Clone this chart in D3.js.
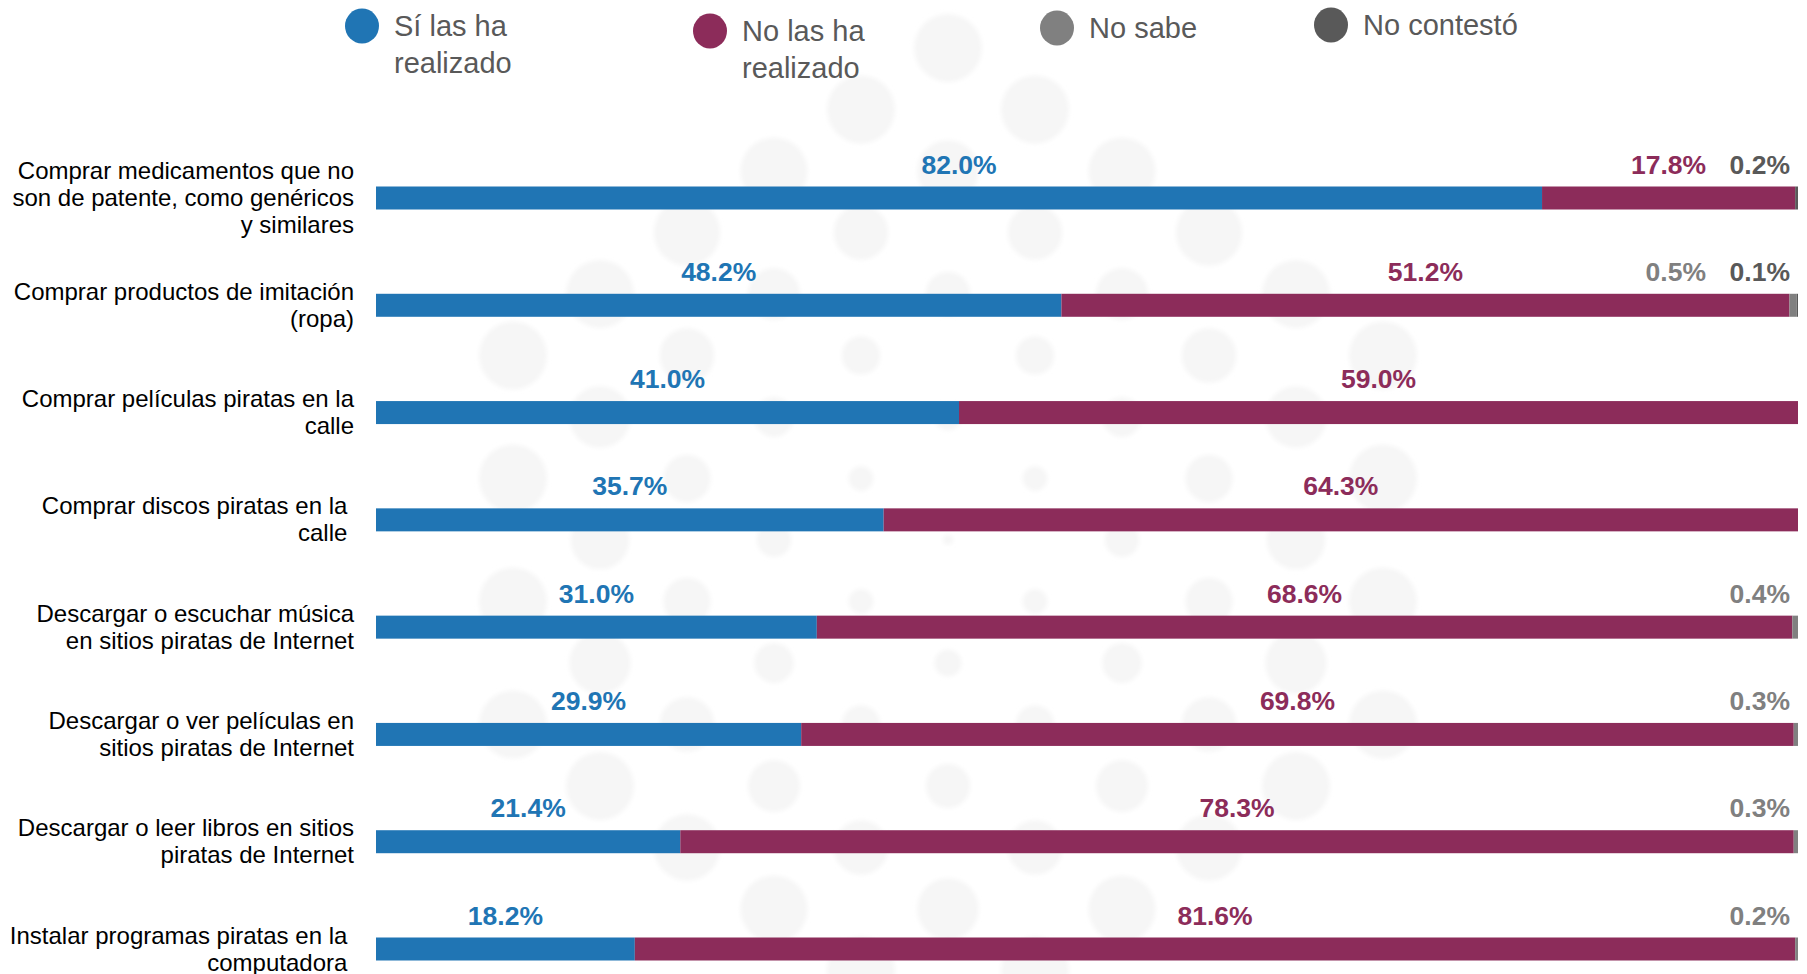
<!DOCTYPE html>
<html>
<head>
<meta charset="utf-8">
<script src="https://cdn.jsdelivr.net/npm/d3@7"></script>
<style>
  html, body { margin: 0; padding: 0; background: #fff; }
  svg { display: block; font-family: "Liberation Sans", Arial, sans-serif; }
</style>
</head>
<body>
<svg id="chart"></svg>
<script>
// datos
var categorias = [
  ["Comprar medicamentos que no", "son de patente, como genéricos", "y similares"],
  ["Comprar productos de imitación", "(ropa)"],
  ["Comprar películas piratas en la", "calle"],
  ["Comprar discos piratas en la ", "calle "],
  ["Descargar o escuchar música", "en sitios piratas de Internet"],
  ["Descargar o ver películas en", "sitios piratas de Internet"],
  ["Descargar o leer libros en sitios", "piratas de Internet"],
  ["Instalar programas piratas en la ", "computadora "]
]
var si = [82.0, 48.2, 41.0, 35.7, 31.0, 29.9, 21.4, 18.2]
var no = [17.8, 51.2, 59.0, 64.3, 68.6, 69.8, 78.3, 81.6]
var noSabe = [0, 0.5, 0, 0, 0.4, 0.3, 0.3, 0.2]
var noContesto = [0.2, 0.1, 0, 0, 0, 0, 0, 0]

var series = ["si", "no", "noSabe", "noContesto"]
var nombres = [["Sí las ha", "realizado"], ["No las ha", "realizado"], ["No sabe"], ["No contestó"]]
var colores = ["#2075B4", "#8C2C5A", "#808080", "#595959"]

var W = 1807, H = 974
var svg = d3.select('#chart')
  .attr('width', W)
  .attr('height', H)

// marca de agua de fondo (círculos tenues)
svg.append('defs').append('filter')
  .attr('id', 'suave')
  .append('feGaussianBlur')
  .attr('stdDeviation', 2)
var fondo = svg.append('g').attr('filter', 'url(#suave)')
var cx0 = 948, cy0 = 540
for (var k = -6; k <= 6; k++) {
  for (var j = -6; j <= 6; j++) {
    var px = cx0 + k * 87
    var py = cy0 + j * 123 + (Math.abs(k) % 2 ? 61.5 : 0)
    var dist = Math.hypot(px - cx0, py - cy0)
    if (dist > 500) continue
    fondo.append('circle')
      .attr('cx', px)
      .attr('cy', py)
      .attr('r', Math.min(34, 5 + dist * 0.07))
      .attr('fill', '#f6f6f6')
  }
}

// tabla para el stack
var tabla = categorias.map(function (c, i) {
  return { cat: i, si: si[i], no: no[i], noSabe: noSabe[i], noContesto: noContesto[i] }
})
var stacked = d3.stack().keys(series)(tabla)

// escalas
var x = d3.scaleLinear().domain([0, 100]).range([376, 1798])
var y = d3.scalePoint().domain(d3.range(categorias.length)).range([198, 949])
var color = d3.scaleOrdinal().domain(series).range(colores)
var barH = 23

// barras
svg.append('g')
  .selectAll('g')
  .data(stacked)
  .enter()
  .append('g')
  .attr('fill', function (d) { return color(d.key) })
  .selectAll('rect')
  .data(function (d) { return d })
  .enter()
  .append('rect')
  .attr('x', function (d) { return x(d[0]) })
  .attr('y', function (d) { return y(d.data.cat) - barH / 2 })
  .attr('width', function (d) { return x(d[1]) - x(d[0]) })
  .attr('height', barH)

// etiquetas de valores
var etiquetas = svg.append('g')
  .style('font-weight', 'bold')
  .style('font-size', '26.5px')
tabla.forEach(function (row, i) {
  var yb = y(i) - barH / 2 - 13
  // segmentos pequeños al final de la barra, de derecha a izquierda
  var pequenos = []
  stacked.forEach(function (s) {
    var d = s[i]
    var v = d[1] - d[0]
    if (v <= 0) return
    if (v < 5) {
      pequenos.push({ key: s.key, v: v })
    } else {
      etiquetas.append('text')
        .attr('x', x((d[0] + d[1]) / 2))
        .attr('y', yb)
        .attr('text-anchor', 'middle')
        .attr('fill', color(s.key))
        .text(d3.format('.1f')(v) + '%')
    }
  })
  pequenos.reverse().forEach(function (p, n) {
    etiquetas.append('text')
      .attr('x', x(100) - 8 - n * 84)
      .attr('y', yb)
      .attr('text-anchor', 'end')
      .attr('fill', color(p.key))
      .text(d3.format('.1f')(p.v) + '%')
  })
})

// etiquetas de categorías
var lh = 27
svg.append('g')
  .selectAll('text')
  .data(categorias)
  .enter()
  .append('text')
  .attr('text-anchor', 'end')
  .attr('fill', '#000')
  .style('font-size', '24px')
  .style('white-space', 'pre')
  .each(function (lineas, i) {
    var t = d3.select(this)
    var y0 = y(i) - (lineas.length - 1) / 2 * lh + 8
    lineas.forEach(function (l, n) {
      t.append('tspan')
        .attr('x', 354)
        .attr('y', y0 + n * lh)
        .text(l)
    })
  })

// leyenda
var legX = [362, 710, 1057, 1331]
var legY = [26, 31, 28, 25]
var leyenda = svg.append('g')
series.forEach(function (s, i) {
  leyenda.append('ellipse')
    .attr('cx', legX[i])
    .attr('cy', legY[i])
    .attr('rx', 17)
    .attr('ry', 17.5)
    .attr('fill', color(s))
  var t = leyenda.append('text')
    .attr('fill', '#595959')
    .style('font-size', '29px')
  nombres[i].forEach(function (l, n) {
    t.append('tspan')
      .attr('x', legX[i] + 32)
      .attr('y', legY[i] + 10 + n * 37)
      .text(l)
  })
})
</script>
</body>
</html>
